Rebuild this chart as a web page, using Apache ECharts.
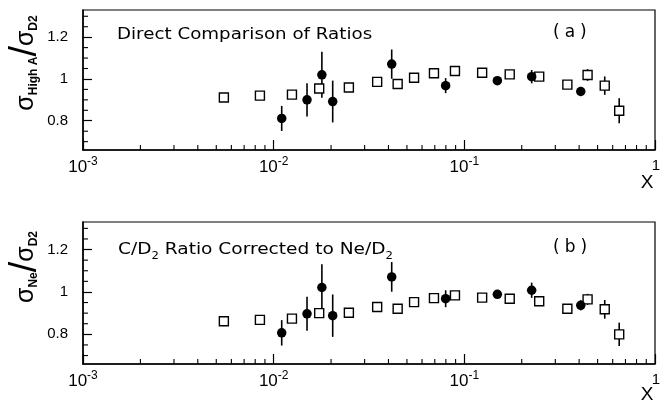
<!DOCTYPE html>
<html><head><meta charset="utf-8">
<script src="https://cdn.jsdelivr.net/npm/echarts@6/dist/echarts.min.js"></script>
<style>html,body{margin:0;padding:0;background:#fff}#c{width:672px;height:404px}</style>
</head><body><div id="c"></div>
<script>
// Open squares: nuclear / deuterium ratio vs Bjorken x
const xSquares = [0.00548, 0.00847, 0.01247, 0.01733, 0.0248, 0.0349, 0.0447, 0.0545, 0.0693, 0.0893, 0.124, 0.173, 0.247, 0.347, 0.443, 0.545, 0.649];
const ySquaresA = [0.911, 0.920, 0.925, 0.954, 0.959, 0.986, 0.976, 1.006, 1.027, 1.038, 1.030, 1.022, 1.011, 0.973, 1.019, 0.968, 0.848];
const eSquaresA = [0.01, 0.01, 0.01, 0.012, 0.01, 0.01, 0.01, 0.01, 0.01, 0.01, 0.01, 0.01, 0.012, 0.012, 0.028, 0.044, 0.06];
const ySquaresB = [0.862, 0.868, 0.874, 0.900, 0.902, 0.929, 0.921, 0.952, 0.971, 0.984, 0.973, 0.968, 0.956, 0.921, 0.965, 0.918, 0.800];
const eSquaresB = [0.01, 0.01, 0.01, 0.012, 0.01, 0.01, 0.01, 0.01, 0.01, 0.01, 0.01, 0.01, 0.012, 0.012, 0.026, 0.044, 0.055];

// Filled circles: C / D2 measurement
const xCircles = [0.01102, 0.01496, 0.0179, 0.0204, 0.0416, 0.0798, 0.149, 0.2255, 0.408];
const yCirclesA = [0.811, 0.900, 1.020, 0.892, 1.071, 0.968, 0.992, 1.011, 0.940];
const eCirclesA = [0.06, 0.08, 0.11, 0.10, 0.07, 0.036, 0.012, 0.032, 0.022];
const yCirclesB = [0.807, 0.897, 1.021, 0.888, 1.071, 0.968, 0.989, 1.008, 0.937];
const eCirclesB = [0.06, 0.08, 0.11, 0.10, 0.07, 0.04, 0.012, 0.036, 0.024];

// Axis ticks
const yMajor = [0.8, 1.0, 1.2];
const yMinor = [0.7, 0.75, 0.85, 0.9, 0.95, 1.05, 1.1, 1.15, 1.25, 1.3];
const xMinorMantissa = [2, 3, 4, 5, 6, 7, 8, 9];
const xDecades = [-3, -2, -1];

const X_MIN = 0.001, X_MAX = 1, Y_MIN = 0.66, Y_MAX = 1.33;

const xMinor = [];
xDecades.forEach(d => xMinorMantissa.forEach(m => xMinor.push(m * Math.pow(10, d))));

const BLACK = '#000';
const labelFont = 'Liberation Sans';
const titleFont = 'DejaVu Sans';

const grids = [
  { left: 83, right: 17, top: 10, height: 140, show: true, borderColor: BLACK, borderWidth: 1.2 },
  { left: 83, right: 17, top: 222, height: 142, show: true, borderColor: BLACK, borderWidth: 1.2 }
];

function expLabel(v) {
  const p = Math.round(Math.log10(v));
  if (p === 0) return '{one|1}';
  return '{b|10}{sup|' + p + '}';
}

const xAxes = [];
const yAxes = [];
[0, 1].forEach(g => {
  xAxes.push({
    type: 'log', logBase: 10, min: X_MIN, max: X_MAX, gridIndex: g, position: 'bottom',
    axisLine: { onZero: false, lineStyle: { color: BLACK, width: 1.5 } },
    axisTick: { inside: true, length: 10, lineStyle: { color: BLACK, width: 1.2 } },
    splitLine: { show: false },
    axisLabel: {
      margin: 6, color: BLACK, formatter: expLabel,
      rich: {
        b: { fontSize: 17, fontFamily: labelFont, color: BLACK, verticalAlign: 'bottom', lineHeight: 20 },
        sup: { fontSize: 12, fontFamily: labelFont, color: BLACK, verticalAlign: 'top', lineHeight: 12 },
        one: { fontSize: 15, fontFamily: labelFont, color: BLACK, padding: [2, 0, 0, 2] }
      }
    }
  });
  yAxes.push({
    type: 'value', min: Y_MIN, max: Y_MAX, gridIndex: g, position: 'left',
    axisLine: { onZero: false, lineStyle: { color: BLACK, width: 1.5 } },
    splitLine: { show: false },
    axisTick: { inside: true, length: 9, customValues: yMajor, lineStyle: { color: BLACK, width: 1.2 } },
    axisLabel: { customValues: yMajor, margin: 15, fontSize: 15, fontFamily: labelFont, color: BLACK,
      formatter: v => (Math.abs(v - 1) < 1e-9 ? '1' : String(+v.toFixed(1))) }
  });
});

// short inward minor ticks placed through the panel's own scales
function minorTickSeries(g) {
  const data = xMinor.map(x => [x, Y_MIN, 0]).concat(yMinor.map(y => [X_MIN, y, 1]));
  return {
    type: 'custom', xAxisIndex: g, yAxisIndex: g, z: 5, silent: true, clip: false,
    data: data,
    renderItem: (params, api) => {
      const p = api.coord([api.value(0), api.value(1)]);
      const vertical = api.value(2) === 0;
      const shape = vertical
        ? { x1: p[0], y1: p[1], x2: p[0], y2: p[1] - 5 }
        : { x1: p[0], y1: p[1], x2: p[0] + 5, y2: p[1] };
      return { type: 'line', shape: shape, style: { stroke: BLACK, lineWidth: 1.1 } };
    }
  };
}
function errSeries(g, xs, ys, es) {
  return {
    type: 'custom', xAxisIndex: g, yAxisIndex: g, z: 1,
    data: xs.map((x, i) => [x, ys[i] - es[i], ys[i] + es[i]]),
    renderItem: (params, api) => {
      const p1 = api.coord([api.value(0), api.value(1)]);
      const p2 = api.coord([api.value(0), api.value(2)]);
      return { type: 'line', shape: { x1: p1[0], y1: p1[1], x2: p2[0], y2: p2[1] },
        style: { stroke: BLACK, lineWidth: 1.6 } };
    }
  };
}
function squareSeries(g, xs, ys) {
  return {
    type: 'scatter', xAxisIndex: g, yAxisIndex: g, z: 3,
    symbol: 'rect', symbolSize: 9,
    itemStyle: { color: '#fff', borderColor: BLACK, borderWidth: 1.4, opacity: 1 },
    data: xs.map((x, i) => [x, ys[i]])
  };
}
function circleSeries(g, xs, ys) {
  return {
    type: 'scatter', xAxisIndex: g, yAxisIndex: g, z: 4,
    symbol: 'circle', symbolSize: 9.5,
    itemStyle: { color: BLACK, opacity: 1 },
    data: xs.map((x, i) => [x, ys[i]])
  };
}

const series = [
  minorTickSeries(0),
  errSeries(0, xSquares, ySquaresA, eSquaresA),
  errSeries(0, xCircles, yCirclesA, eCirclesA),
  squareSeries(0, xSquares, ySquaresA),
  circleSeries(0, xCircles, yCirclesA),
  minorTickSeries(1),
  errSeries(1, xSquares, ySquaresB, eSquaresB),
  errSeries(1, xCircles, yCirclesB, eCirclesB),
  squareSeries(1, xSquares, ySquaresB),
  circleSeries(1, xCircles, yCirclesB)
];

const yTitleRich = {
  s: { fontSize: 25, fontFamily: labelFont, fill: BLACK, lineHeight: 28, verticalAlign: 'middle' },
  sub: { fontSize: 12, fontWeight: 'bold', fontFamily: labelFont, fill: BLACK, lineHeight: 14, verticalAlign: 'bottom' },
  sl: { fontSize: 38, fontFamily: labelFont, fill: BLACK, lineHeight: 28, verticalAlign: 'middle' }
};
const panelTagRich = {
  p: { fontSize: 17, fontFamily: titleFont, fill: BLACK },
  c: { fontSize: 17, fontFamily: titleFont, fill: BLACK, padding: [0, 5, 0, 5] }
};
const graphics = [
  { type: 'text', x: 117, y: 35, scaleX: 1.14, style: { text: 'Direct Comparison of Ratios', fontSize: 16, fontFamily: titleFont, fill: BLACK, verticalAlign: 'middle' } },
  { type: 'text', x: 553, y: 33, style: { text: '{p|(}{c|a}{p|)}', verticalAlign: 'middle', rich: panelTagRich } },
  { type: 'text', x: 118, y: 250, scaleX: 1.16, style: {
      text: 'C/D{s|2} Ratio Corrected to Ne/D{s|2}', fontSize: 16, fontFamily: titleFont, fill: BLACK, verticalAlign: 'middle',
      rich: { s: { fontSize: 10, fontFamily: titleFont, fill: BLACK, verticalAlign: 'bottom', lineHeight: 22 } } } },
  { type: 'text', x: 553, y: 248, style: { text: '{p|(}{c|b}{p|)}', verticalAlign: 'middle', rich: panelTagRich } },
  { type: 'text', x: 26, y: 63, rotation: Math.PI / 2, style: {
      text: '{s|σ}{sub|High A}{sl|/}{s|σ}{sub|D2}', align: 'center', verticalAlign: 'middle', rich: yTitleRich } },
  { type: 'text', x: 26, y: 267, rotation: Math.PI / 2, style: {
      text: '{s|σ}{sub|Ne}{sl|/}{s|σ}{sub|D2}', align: 'center', verticalAlign: 'middle', rich: yTitleRich } },
  { type: 'text', x: 647, y: 183, style: { text: 'X', fontSize: 19, fontFamily: labelFont, fill: BLACK, align: 'center', verticalAlign: 'middle' } },
  { type: 'text', x: 647, y: 395, style: { text: 'X', fontSize: 19, fontFamily: labelFont, fill: BLACK, align: 'center', verticalAlign: 'middle' } }
];

const chart = echarts.init(document.getElementById('c'), null, { renderer: 'canvas' });
chart.setOption({
  animation: false,
  backgroundColor: '#fff',
  grid: grids,
  xAxis: xAxes,
  yAxis: yAxes,
  series: series,
  graphic: graphics
});
</script>
</body></html>
